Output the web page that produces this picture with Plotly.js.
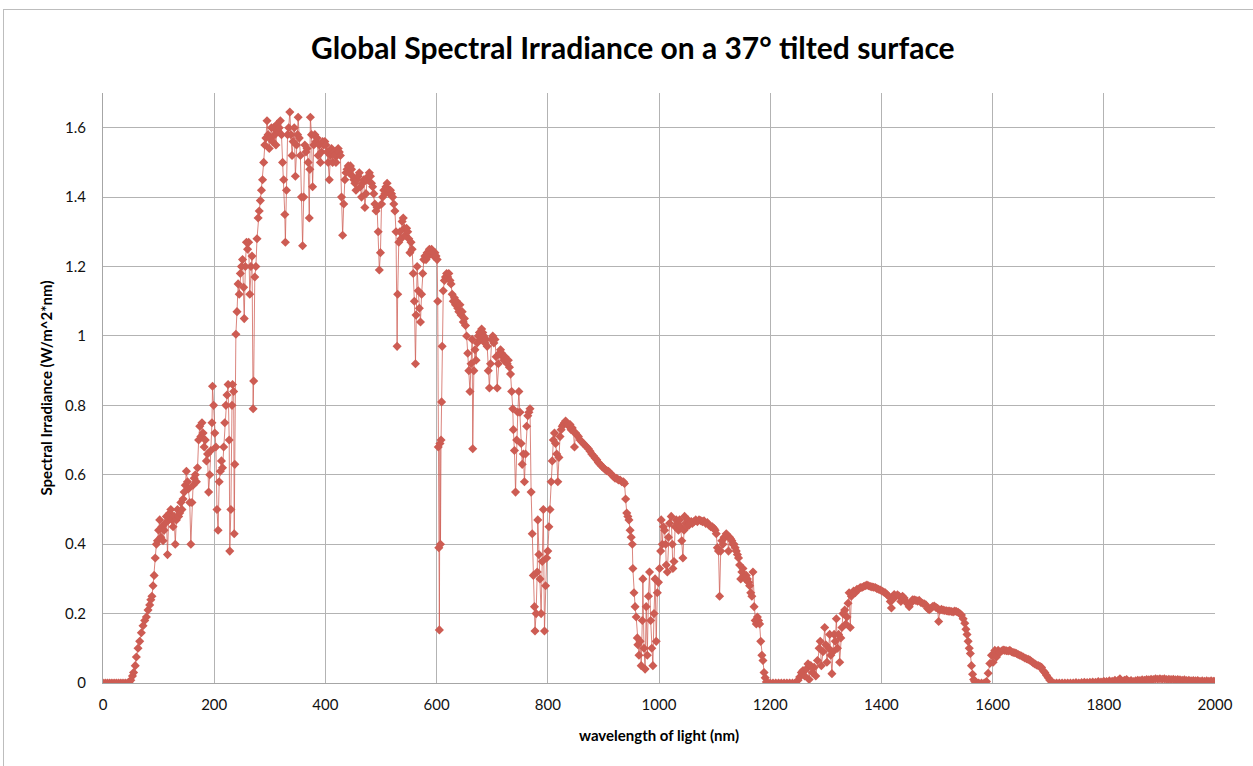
<!DOCTYPE html>
<html>
<head>
<meta charset="utf-8">
<script src="https://cdn.plot.ly/plotly-3.0.1.min.js"></script>
<style>
html,body{margin:0;padding:0;background:#fff;overflow:hidden;}
#frame{position:absolute;left:3px;top:9px;width:1400px;height:900px;border-top:1px solid #bdbdbd;border-left:1px solid #bdbdbd;}
#chart{position:absolute;left:0;top:0;width:1253px;height:766px;}
</style>
</head>
<body>
<div id="frame"></div>
<div id="chart"></div>
<script>
const chartTitle = "Global Spectral Irradiance on a 37° tilted surface";
const xTitle = "wavelength of light (nm)";
const yTitle = "Spectral Irradiance (W/m^2*nm)";

const wavelength = [
0,4,8,12,16,20,24,28,32,36,
40,44,47,50,53,55,58,60,63,66,
69,72,75,78,81,84,86,88,90,92,
94,96,98,100,102,104,106,108,110,112,
114,116,118,120,122,124,126,128,130,132,
134,136,138,140,142,144,146,148,150,152,
154,156,158,160,162,164,166,168,170,172,
174,176,178,180,182,184,186,188,190,192,
194,196,197,199,201,203,205,207,209,211,
213,215,217,219,221,223,225,227,228,230,
232,233,235,236,237,239,241,243,245,247,
249,251,253,254,256,258,260,262,264,266,
268,270,271,273,275,277,279,281,283,285,
287,289,291,293,295,297,299,301,303,305,
307,309,311,313,315,317,319,321,323,325,
327,328,330,332,334,336,338,340,342,344,
346,348,350,351,353,355,357,359,361,363,
365,367,369,371,372,373,375,377,379,381,
383,385,387,389,391,393,395,397,399,401,
403,405,407,409,411,413,415,417,419,421,
423,425,427,429,431,433,435,437,439,441,
443,445,447,449,451,453,455,457,459,461,
463,465,467,469,471,473,475,477,479,481,
483,485,487,489,491,493,495,497,499,501,
503,505,507,509,511,513,515,517,519,521,
523,525,527,529,530,532,534,536,538,540,
542,544,546,548,550,552,554,556,558,560,
562,563,565,567,569,571,573,575,577,579,
581,583,585,587,589,591,593,595,597,599,
601,602,603,604,605,606,607,608,609,610,
612,614,616,618,620,622,624,626,628,630,
632,634,636,638,640,642,644,646,648,650,
652,654,656,658,660,662,664,665,667,669,
671,673,675,677,679,681,683,685,687,689,
691,693,695,697,699,701,703,705,707,709,
711,713,715,717,719,721,723,725,727,729,
731,733,735,737,738,740,742,744,746,748,
750,752,754,756,758,760,762,764,766,768,
770,772,774,776,777,779,781,782,784,786,
788,790,792,794,796,798,800,802,804,806,
808,810,812,814,816,818,820,822,824,826,
828,830,832,834,836,838,840,842,844,846,
848,850,852,855,858,861,864,867,870,873,
876,879,882,885,888,891,894,897,900,903,
906,909,912,915,918,921,924,927,930,933,
936,938,940,942,944,946,948,950,952,953,
955,957,959,961,962,964,966,968,970,971,
973,975,977,979,981,983,985,987,989,991,
993,995,997,999,1001,1003,1004,1006,1008,1010,
1012,1013,1015,1017,1019,1022,1024,1025,1027,1029,
1031,1033,1035,1037,1039,1041,1043,1045,1046,1048,
1050,1052,1054,1056,1058,1060,1063,1066,1069,1072,
1075,1078,1081,1084,1087,1090,1093,1096,1099,1101,
1103,1105,1107,1109,1111,1113,1115,1117,1119,1121,
1123,1125,1127,1129,1131,1133,1135,1137,1139,1141,
1143,1145,1147,1149,1151,1153,1155,1157,1159,1161,
1163,1165,1167,1169,1171,1173,1175,1177,1179,1181,
1183,1185,1187,1189,1191,1193,1196,1200,1205,1210,
1215,1220,1225,1230,1235,1240,1245,1250,1253,1256,
1259,1262,1265,1268,1270,1273,1276,1279,1282,1285,
1288,1290,1292,1295,1298,1300,1302,1305,1307,1309,
1311,1313,1315,1317,1319,1321,1323,1325,1327,1329,
1331,1334,1336,1338,1340,1342,1344,1346,1348,1350,
1353,1356,1359,1362,1365,1368,1371,1374,1377,1380,
1383,1386,1389,1392,1395,1398,1401,1404,1407,1410,
1413,1416,1418,1420,1423,1426,1429,1432,1435,1438,
1441,1444,1447,1450,1453,1456,1459,1462,1465,1468,
1471,1474,1477,1480,1483,1486,1489,1492,1495,1498,
1501,1503,1505,1508,1511,1514,1517,1520,1523,1526,
1529,1532,1535,1538,1541,1544,1547,1550,1552,1554,
1556,1558,1560,1562,1564,1566,1568,1571,1575,1580,
1585,1589,1592,1595,1598,1601,1604,1607,1610,1613,
1616,1619,1622,1625,1628,1631,1634,1637,1640,1643,
1646,1649,1652,1655,1658,1661,1664,1667,1670,1673,
1676,1679,1682,1685,1688,1691,1694,1697,1700,1703,
1706,1710,1715,1720,1725,1730,1735,1740,1745,1750,
1755,1760,1765,1770,1775,1780,1785,1790,1795,1800,
1805,1810,1815,1820,1825,1829,1833,1837,1841,1845,
1849,1853,1857,1861,1865,1869,1873,1877,1881,1885,
1889,1893,1897,1901,1905,1909,1913,1917,1921,1925,
1929,1933,1937,1941,1945,1949,1953,1957,1961,1965,
1969,1973,1977,1981,1985,1989,1993,1997,2000
];

const irradiance = [
0,0,0,0,0,0,0,0,0,0,
0,0,0.003,0.008,0.02,0.03,0.05,0.075,0.1,0.12,
0.145,0.165,0.18,0.19,0.21,0.225,0.24,0.25,0.28,0.31,
0.36,0.4,0.41,0.44,0.47,0.42,0.45,0.41,0.44,0.46,
0.48,0.37,0.47,0.49,0.5,0.47,0.45,0.48,0.4,0.47,
0.5,0.48,0.49,0.52,0.5,0.53,0.55,0.57,0.61,0.58,
0.56,0.52,0.4,0.52,0.57,0.59,0.6,0.58,0.62,0.7,
0.74,0.71,0.75,0.72,0.68,0.7,0.64,0.66,0.55,0.6,
0.67,0.75,0.855,0.8,0.72,0.68,0.5,0.44,0.58,0.61,
0.64,0.62,0.68,0.75,0.8,0.83,0.86,0.7,0.38,0.5,
0.8,0.86,0.84,0.43,0.63,1.005,1.07,1.15,1.12,1.18,
1.2,1.22,1.14,1.05,1.2,1.27,1.25,1.27,1.12,1.2,
1.23,0.79,0.87,1.17,1.2,1.28,1.34,1.36,1.39,1.42,
1.45,1.5,1.55,1.57,1.62,1.58,1.54,1.57,1.6,1.56,
1.6,1.58,1.55,1.61,1.59,1.6,1.62,1.58,1.5,1.45,
1.35,1.27,1.42,1.58,1.6,1.645,1.58,1.52,1.56,1.6,
1.46,1.55,1.58,1.63,1.57,1.52,1.4,1.26,1.4,1.55,
1.53,1.54,1.5,1.34,1.48,1.63,1.58,1.43,1.55,1.58,
1.56,1.57,1.52,1.55,1.5,1.53,1.56,1.55,1.56,1.55,
1.53,1.5,1.45,1.52,1.54,1.5,1.53,1.52,1.5,1.52,
1.54,1.53,1.52,1.4,1.29,1.38,1.45,1.47,1.48,1.49,
1.47,1.49,1.48,1.46,1.45,1.44,1.42,1.45,1.46,1.47,
1.43,1.4,1.44,1.45,1.37,1.41,1.45,1.46,1.47,1.46,
1.44,1.43,1.41,1.38,1.36,1.37,1.3,1.19,1.24,1.38,
1.4,1.42,1.41,1.43,1.44,1.42,1.41,1.42,1.41,1.4,
1.38,1.36,1.3,0.97,1.12,1.27,1.3,1.28,1.33,1.34,
1.31,1.29,1.31,1.3,1.28,1.24,1.27,1.25,1.18,1.1,
0.92,1.06,1.2,1.13,1.08,1.04,1.12,1.18,1.22,1.23,
1.22,1.24,1.23,1.25,1.24,1.25,1.24,1.23,1.24,1.23,
1.22,1.1,0.68,0.39,0.153,0.69,0.4,0.7,0.81,0.97,
1.13,1.16,1.17,1.18,1.17,1.18,1.16,1.15,1.12,1.1,
1.11,1.09,1.1,1.08,1.07,1.09,1.06,1.07,1.04,1.05,
1.03,1.0,0.95,0.9,0.84,0.92,0.99,0.675,0.9,0.96,
0.93,0.98,1.0,1.01,0.99,1.02,1.01,1.0,0.98,0.99,
0.97,0.9,0.85,0.92,0.99,1.0,0.98,0.99,0.94,0.85,
0.92,0.95,0.96,0.95,0.94,0.93,0.94,0.93,0.92,0.93,
0.91,0.89,0.84,0.79,0.73,0.67,0.55,0.7,0.78,0.84,
0.78,0.69,0.63,0.66,0.58,0.66,0.74,0.77,0.78,0.79,
0.55,0.43,0.31,0.22,0.15,0.2,0.32,0.47,0.37,0.3,
0.2,0.35,0.5,0.15,0.28,0.36,0.38,0.45,0.5,0.58,
0.64,0.7,0.72,0.69,0.66,0.58,0.65,0.71,0.73,0.74,
0.745,0.75,0.755,0.75,0.745,0.74,0.745,0.73,0.735,0.725,
0.68,0.72,0.715,0.71,0.7,0.695,0.69,0.685,0.68,0.675,
0.668,0.66,0.655,0.648,0.643,0.635,0.63,0.625,0.62,0.615,
0.612,0.61,0.605,0.6,0.595,0.59,0.59,0.585,0.585,0.58,
0.58,0.575,0.53,0.49,0.48,0.47,0.44,0.42,0.4,0.33,
0.26,0.22,0.19,0.13,0.11,0.08,0.12,0.05,0.18,0.3,
0.1,0.04,0.22,0.08,0.25,0.32,0.18,0.1,0.05,0.2,
0.3,0.12,0.26,0.29,0.33,0.38,0.47,0.4,0.45,0.44,
0.4,0.34,0.32,0.42,0.46,0.48,0.4,0.33,0.35,0.45,
0.47,0.46,0.44,0.47,0.45,0.41,0.36,0.44,0.48,0.46,
0.45,0.47,0.455,0.46,0.465,0.46,0.465,0.47,0.465,0.47,
0.468,0.465,0.467,0.46,0.462,0.455,0.45,0.45,0.445,0.44,
0.43,0.39,0.38,0.25,0.38,0.41,0.4,0.42,0.42,0.43,
0.425,0.38,0.42,0.415,0.41,0.4,0.4,0.39,0.38,0.37,
0.36,0.34,0.3,0.32,0.33,0.31,0.3,0.31,0.3,0.29,
0.28,0.26,0.25,0.32,0.22,0.18,0.17,0.19,0.18,0.17,
0.12,0.08,0.065,0.03,0.015,0.003,0,0,0,0,
0,0,0,0,0,0,0,0.008,0.017,0.03,
0.036,0.02,0.04,0.055,0.01,0.05,0.03,0.045,0.02,0.065,
0.1,0.12,0.05,0.09,0.16,0.11,0.06,0.1,0.14,0.08,
0.027,0.09,0.14,0.12,0.185,0.1,0.14,0.06,0.13,0.16,
0.2,0.21,0.17,0.19,0.23,0.26,0.16,0.25,0.26,0.265,
0.26,0.27,0.27,0.275,0.275,0.278,0.28,0.282,0.28,0.278,
0.277,0.276,0.275,0.272,0.27,0.268,0.265,0.262,0.26,0.255,
0.25,0.235,0.216,0.24,0.255,0.25,0.254,0.25,0.235,0.25,
0.245,0.235,0.228,0.22,0.23,0.24,0.24,0.238,0.236,0.238,
0.232,0.23,0.228,0.225,0.215,0.211,0.215,0.22,0.222,0.218,
0.215,0.177,0.21,0.212,0.21,0.209,0.208,0.207,0.207,0.206,
0.205,0.207,0.206,0.204,0.2,0.196,0.185,0.172,0.155,0.14,
0.12,0.1,0.085,0.05,0.025,0.01,0.004,0,0,0,
0,0.004,0.028,0.056,0.08,0.06,0.094,0.075,0.094,0.088,
0.092,0.095,0.094,0.093,0.092,0.094,0.09,0.088,0.087,0.085,
0.082,0.08,0.078,0.075,0.072,0.07,0.068,0.066,0.062,0.058,
0.055,0.052,0.05,0.048,0.045,0.035,0.03,0.022,0.015,0.008,
0.004,0,0,0,0,0,0,0,0,0.001,
0,0.001,0.002,0.001,0.002,0.003,0.002,0.004,0.003,0.005,
0.004,0.006,0.005,0.008,0.006,0.012,0.004,0.008,0.01,0.005,
0.007,0.004,0.006,0.008,0.007,0.009,0.008,0.01,0.009,0.011,
0.01,0.012,0.011,0.012,0.011,0.012,0.01,0.011,0.01,0.011,
0.009,0.01,0.009,0.008,0.009,0.007,0.008,0.006,0.007,0.006,
0.007,0.005,0.006,0.005,0.006,0.005,0.006,0.005,0.005
];

if (wavelength.length !== irradiance.length) {
  throw new Error("length mismatch " + wavelength.length + " vs " + irradiance.length);
}

const seriesColor = "#CD5C53";

const trace = {
  x: wavelength,
  y: irradiance,
  type: "scatter",
  mode: "lines+markers",
  line: {color: "rgba(205,92,83,0.75)", width: 1},
  marker: {symbol: "diamond", size: 7, color: seriesColor, line: {width: 0}},
  hoverinfo: "x+y"
};

const fam = "Lato, 'Open Sans', sans-serif";
const axisFont = {family: fam, size: 15, color: "#111"};

const layout = {
  width: 1253,
  height: 766,
  paper_bgcolor: "rgba(0,0,0,0)",
  plot_bgcolor: "rgba(0,0,0,0)",
  margin: {l: 103, r: 38, t: 93, b: 83},
  showlegend: false,
  title: {
    text: chartTitle,
    font: {family: fam, size: 30, color: "#000", weight: "bold"},
    x: 0.505, xref: "container", xanchor: "center",
    y: 0.937, yref: "container", yanchor: "middle"
  },
  xaxis: {
    range: [0, 2000],
    tick0: 0, dtick: 200,
    showgrid: true, gridcolor: "#b3b3b3", gridwidth: 1,
    showline: true, linecolor: "#a6a6a6", linewidth: 1,
    zeroline: false,
    ticks: "outside", ticklen: 8, tickcolor: "rgba(0,0,0,0)",
    tickfont: axisFont,
    title: {text: xTitle, font: {family: fam, size: 15, color: "#000", weight: "bold"}, standoff: 18}
  },
  yaxis: {
    range: [0, 1.7],
    tick0: 0, dtick: 0.2,
    showgrid: true, gridcolor: "#b3b3b3", gridwidth: 1,
    showline: true, linecolor: "#a6a6a6", linewidth: 1,
    zeroline: false,
    ticks: "outside", ticklen: 13, tickcolor: "rgba(0,0,0,0)",
    tickfont: axisFont,
    title: {text: yTitle, font: {family: fam, size: 15, color: "#000", weight: "bold"}, standoff: 8}
  }
};

Plotly.newPlot("chart", [trace], layout, {displayModeBar: false, responsive: false});
</script>
</body>
</html>
